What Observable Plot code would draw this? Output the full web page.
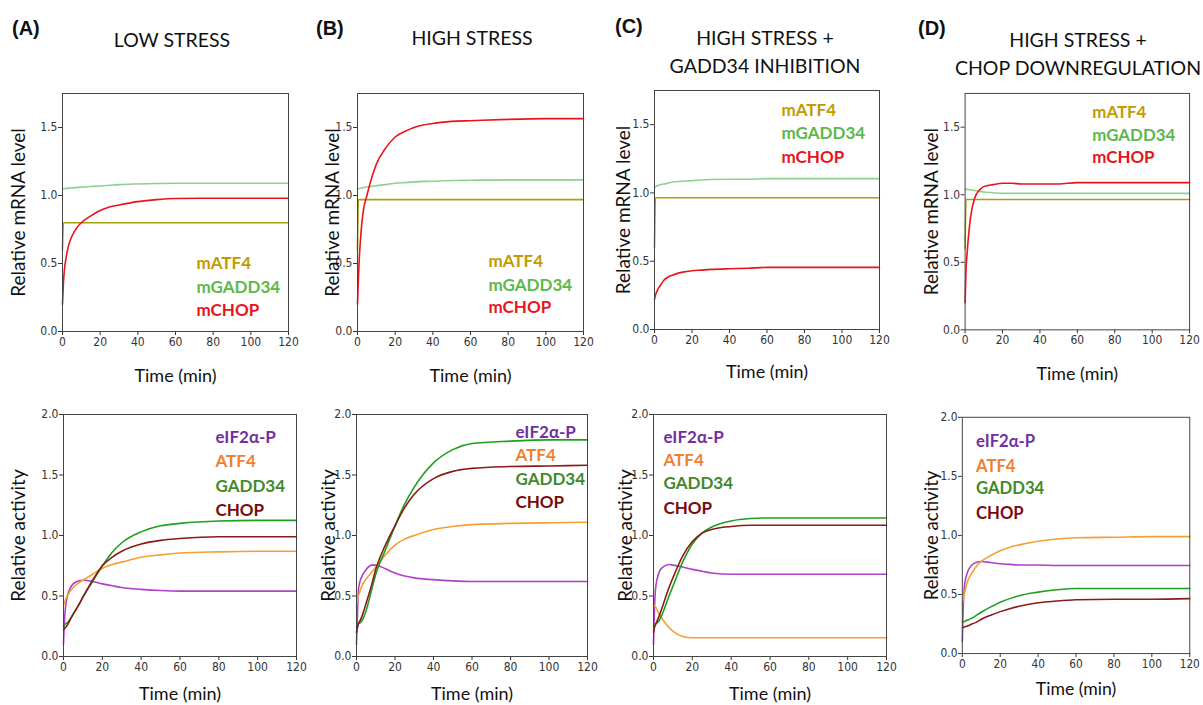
<!DOCTYPE html>
<html><head><meta charset="utf-8">
<script src="https://cdn.jsdelivr.net/npm/d3@7"></script>
<script src="https://cdn.jsdelivr.net/npm/@observablehq/plot@0.6"></script>
<style>
body{margin:0;background:#fff;}
#fig{position:relative;width:1203px;height:705px;overflow:hidden;font-family:Lato,"Open Sans",sans-serif;color:#111;}
.tag{position:absolute;font:bold 20px "Liberation Sans",Arial,sans-serif;line-height:24px;}
.ttl{position:absolute;font-size:19.5px;text-align:center;white-space:nowrap;transform:translateX(-50%);line-height:28px;}
.pnl{position:absolute;}
</style></head><body><div id="fig"></div>
<script>
// ---------- data ----------
const T = [0, 0.5, 1, 2, 3, 5, 8, 10, 15, 20, 25, 30, 40, 50, 60, 80, 100, 120];
const xTicks = [0, 20, 40, 60, 80, 100, 120];
const mrnaTicks = [0, 0.5, 1.0, 1.5];
const actTicks = [0, 0.5, 1.0, 1.5, 2.0];
const panelTags = ["(A)", "(B)", "(C)", "(D)"];
const panelTitles = [["LOW STRESS"], ["HIGH STRESS"], ["HIGH STRESS +", "GADD34 INHIBITION"], ["HIGH STRESS +", "CHOP DOWNREGULATION"]];
const mrnaNames = ["mATF4", "mGADD34", "mCHOP"];
const actNames = ["eIF2\u03b1-P", "ATF4", "GADD34", "CHOP"];

// panel A (low stress)
const mATF4_A   = [0.6, 0.8, 0.8, 0.8, 0.8, 0.8, 0.8, 0.8, 0.8, 0.8, 0.8, 0.8, 0.8, 0.8, 0.8, 0.8, 0.8, 0.8];
const mGADD34_A = [1.05, 1.05, 1.05, 1.052, 1.054, 1.056, 1.06, 1.062, 1.066, 1.07, 1.075, 1.08, 1.085, 1.088, 1.09, 1.09, 1.09, 1.09];
const mCHOP_A   = [0.2, 0.36, 0.45, 0.55, 0.62, 0.7, 0.77, 0.8, 0.85, 0.89, 0.915, 0.93, 0.955, 0.97, 0.978, 0.98, 0.98, 0.98];
const eIF2_A    = [0.1, 0.3, 0.4, 0.5, 0.55, 0.6, 0.625, 0.63, 0.62, 0.6, 0.585, 0.57, 0.555, 0.545, 0.54, 0.54, 0.54, 0.54];
const ATF4_A    = [0.42, 0.45, 0.47, 0.5, 0.53, 0.57, 0.61, 0.63, 0.68, 0.73, 0.76, 0.78, 0.82, 0.84, 0.855, 0.865, 0.87, 0.87];
const GADD34_A  = [0.25, 0.26, 0.27, 0.28, 0.3, 0.35, 0.43, 0.49, 0.62, 0.75, 0.86, 0.94, 1.03, 1.08, 1.1, 1.12, 1.125, 1.125];
const CHOP_A    = [0.22, 0.23, 0.24, 0.26, 0.29, 0.35, 0.43, 0.49, 0.63, 0.75, 0.82, 0.87, 0.93, 0.96, 0.975, 0.99, 0.99, 0.99];
// panel B (high stress)
const mATF4_B   = [0.6, 0.97, 0.97, 0.97, 0.97, 0.97, 0.97, 0.97, 0.97, 0.97, 0.97, 0.97, 0.97, 0.97, 0.97, 0.97, 0.97, 0.97];
const mGADD34_B = [1.05, 1.05, 1.05, 1.055, 1.058, 1.062, 1.068, 1.072, 1.08, 1.09, 1.095, 1.1, 1.105, 1.11, 1.112, 1.115, 1.115, 1.115];
const mCHOP_B   = [0.2, 0.4, 0.55, 0.75, 0.88, 1.0, 1.15, 1.23, 1.35, 1.43, 1.47, 1.5, 1.53, 1.545, 1.55, 1.56, 1.565, 1.565];
const eIF2_B    = [0.1, 0.35, 0.55, 0.63, 0.67, 0.72, 0.755, 0.755, 0.725, 0.69, 0.665, 0.65, 0.635, 0.625, 0.62, 0.62, 0.62, 0.62];
const ATF4_B    = [0.42, 0.47, 0.5, 0.55, 0.59, 0.64, 0.7, 0.74, 0.84, 0.92, 0.97, 1.0, 1.05, 1.075, 1.09, 1.1, 1.105, 1.11];
const GADD34_B  = [0.2, 0.25, 0.27, 0.28, 0.3, 0.38, 0.56, 0.68, 0.88, 1.08, 1.26, 1.4, 1.6, 1.71, 1.76, 1.78, 1.79, 1.79];
const CHOP_B    = [0.2, 0.24, 0.27, 0.3, 0.34, 0.44, 0.6, 0.72, 0.92, 1.08, 1.23, 1.34, 1.47, 1.53, 1.555, 1.57, 1.575, 1.58];
// panel C (high stress + GADD34 inhibition)
const mATF4_C   = [0.6, 0.965, 0.965, 0.965, 0.965, 0.965, 0.965, 0.965, 0.965, 0.965, 0.965, 0.965, 0.965, 0.965, 0.965, 0.965, 0.965, 0.965];
const mGADD34_C = [1.04, 1.045, 1.05, 1.055, 1.06, 1.065, 1.075, 1.08, 1.085, 1.09, 1.095, 1.098, 1.1, 1.1, 1.105, 1.105, 1.105, 1.105];
const mCHOP_C   = [0.22, 0.25, 0.27, 0.3, 0.32, 0.36, 0.39, 0.4, 0.42, 0.43, 0.435, 0.44, 0.445, 0.448, 0.455, 0.455, 0.455, 0.455];
const eIF2_C    = [0.1, 0.4, 0.55, 0.65, 0.7, 0.74, 0.76, 0.755, 0.74, 0.72, 0.705, 0.69, 0.68, 0.68, 0.68, 0.68, 0.68, 0.68];
const ATF4_C    = [0.43, 0.42, 0.41, 0.38, 0.35, 0.3, 0.24, 0.21, 0.165, 0.155, 0.155, 0.155, 0.155, 0.155, 0.155, 0.155, 0.155, 0.155];
const GADD34_C  = [0.25, 0.26, 0.27, 0.28, 0.3, 0.37, 0.5, 0.58, 0.78, 0.93, 1.02, 1.07, 1.12, 1.14, 1.145, 1.145, 1.145, 1.145];
const CHOP_C    = [0.2, 0.24, 0.26, 0.3, 0.34, 0.43, 0.57, 0.65, 0.83, 0.95, 1.02, 1.05, 1.075, 1.085, 1.085, 1.085, 1.085, 1.085];
// panel D (high stress + CHOP downregulation)
const mATF4_D   = [0.6, 0.965, 0.965, 0.965, 0.965, 0.965, 0.965, 0.965, 0.965, 0.965, 0.965, 0.965, 0.965, 0.965, 0.965, 0.965, 0.965, 0.965];
const mGADD34_D = [1.04, 1.04, 1.04, 1.038, 1.035, 1.032, 1.025, 1.02, 1.015, 1.01, 1.01, 1.01, 1.01, 1.01, 1.01, 1.01, 1.01, 1.01];
const mCHOP_D   = [0.2, 0.45, 0.55, 0.72, 0.84, 0.97, 1.04, 1.06, 1.075, 1.085, 1.085, 1.08, 1.08, 1.08, 1.09, 1.09, 1.09, 1.09];
const eIF2_D    = [0.1, 0.4, 0.55, 0.65, 0.7, 0.75, 0.775, 0.78, 0.77, 0.76, 0.755, 0.75, 0.75, 0.745, 0.745, 0.745, 0.745, 0.745];
const ATF4_D    = [0.42, 0.46, 0.5, 0.57, 0.62, 0.68, 0.75, 0.78, 0.83, 0.87, 0.9, 0.92, 0.95, 0.97, 0.98, 0.985, 0.99, 0.99];
const GADD34_D  = [0.27, 0.27, 0.27, 0.28, 0.285, 0.3, 0.33, 0.35, 0.395, 0.435, 0.465, 0.49, 0.52, 0.54, 0.55, 0.55, 0.55, 0.55];
const CHOP_D    = [0.22, 0.22, 0.225, 0.23, 0.235, 0.25, 0.27, 0.29, 0.325, 0.355, 0.38, 0.4, 0.43, 0.445, 0.455, 0.46, 0.46, 0.465];

// ---------- styles ----------
const mrnaLine = ["#a8a010", "#8fd08f", "#e8141c"];
const mrnaText = ["#c39a00", "#5cb84a", "#e8141c"];
const actLine = ["#b040c8", "#f5a030", "#1ea01e", "#8b1a1a"];
const actText = ["#7030a0", "#f07f30", "#3f8a2a", "#7a0a0a"];
const tickFont = "'Liberation Sans Narrow','DejaVu Sans Condensed','Liberation Sans',sans-serif";
const labFont = "Lato,'Open Sans',sans-serif";

const fig = document.getElementById("fig");

// tags and titles
const tagPos = [[12, 16], [316, 16], [615, 14], [918, 16]];
const titlePos = [[172, 26], [472, 24], [765, 24], [1078, 26]];
panelTags.forEach((t, i) => {
  const d = document.createElement("div"); d.className = "tag"; d.textContent = t;
  d.style.left = tagPos[i][0] + "px"; d.style.top = tagPos[i][1] + "px"; fig.appendChild(d);
  const h = document.createElement("div"); h.className = "ttl";
  h.innerHTML = panelTitles[i].join("<br>");
  h.style.left = titlePos[i][0] + "px"; h.style.top = titlePos[i][1] + "px"; fig.appendChild(h);
});

function panel(cfg) {
  const ML = 60, MR = 14, MT = 10, MB = 52;
  const [fx, fy, fw, fh] = cfg.frame;
  const marks = [
    Plot.axisX({ticks: xTicks, tickSize: 4, tickPadding: 2, label: null, fontSize: 12, fontFamily: tickFont}),
    Plot.axisY({ticks: cfg.yticks, tickFormat: d3.format(".1f"), tickSize: 4, tickPadding: 1, label: null, fontSize: 12, fontFamily: tickFont}),
    ...cfg.series.map((vals, i) => Plot.line(T, {x: T, y: vals, stroke: cfg.lineColors[i], strokeWidth: 1.6, curve: "monotone-x"})),
    Plot.frame({stroke: "#444"}),
    ...cfg.names.map((n, i) => Plot.text([n], {frameAnchor: "top-left", dx: cfg.legDx, dy: cfg.legDy[i], text: d => d,
      fill: cfg.textColors[i], fontWeight: "bold", fontSize: 17, fontFamily: labFont, textAnchor: "start", lineAnchor: "middle"})),
    Plot.text([cfg.ylabel], {frameAnchor: "left", dx: cfg.ylabDx, rotate: -90, text: d => d, fontSize: 19, fontFamily: labFont,
      fill: "#111", textAnchor: "middle", lineAnchor: "middle"}),
    Plot.text(["Time (min)"], {frameAnchor: "bottom", dy: cfg.xlabDy, text: d => d, fontSize: 18, fontFamily: labFont,
      fill: "#111", textAnchor: "middle", lineAnchor: "middle"})
  ];
  const p = Plot.plot({
    width: fw + ML + MR, height: fh + MT + MB,
    marginLeft: ML, marginRight: MR, marginTop: MT, marginBottom: MB,
    x: {domain: [0, 120]}, y: {domain: [0, cfg.ymax]},
    style: {background: "transparent", color: "#333", overflow: "visible"},
    marks
  });
  const d = document.createElement("div"); d.className = "pnl";
  d.style.left = (fx - ML) + "px"; d.style.top = (fy - MT) + "px";
  d.appendChild(p); fig.appendChild(d);
}

const topRow = [
  {frame: [62, 93, 226, 238], series: [mATF4_A, mGADD34_A, mCHOP_A], legDx: 134, legDy: [170, 194, 217], ylabDx: -44, xlabDy: 45},
  {frame: [357, 93, 226, 238], series: [mATF4_B, mGADD34_B, mCHOP_B], legDx: 131, legDy: [168, 192, 214], ylabDx: -25, xlabDy: 45},
  {frame: [654, 90, 225, 239], series: [mATF4_C, mGADD34_C, mCHOP_C], legDx: 127, legDy: [20, 43, 67], ylabDx: -31, xlabDy: 43},
  {frame: [965, 93, 226, 238], series: [mATF4_D, mGADD34_D, mCHOP_D], legDx: 128, legDy: [19, 42, 65], ylabDx: -33, xlabDy: 45}
];
topRow.forEach(c => panel({...c, ymax: 1.75, yticks: mrnaTicks, ylabel: "Relative mRNA level", names: mrnaNames, lineColors: mrnaLine, textColors: mrnaText}));

const bottomRow = [
  {frame: [63, 414, 233, 242], series: [eIF2_A, ATF4_A, GADD34_A, CHOP_A], legDx: 152, legDy: [23, 47, 72, 96], ylabDx: -45, xlabDy: 38},
  {frame: [356, 414, 231, 242], series: [eIF2_B, ATF4_B, GADD34_B, CHOP_B], legDx: 159, legDy: [18, 41, 65, 88], ylabDx: -28, xlabDy: 38},
  {frame: [653, 414, 233, 242], series: [eIF2_C, ATF4_C, GADD34_C, CHOP_C], legDx: 10, legDy: [23, 46, 69, 94], ylabDx: -28, xlabDy: 38},
  {frame: [963, 417, 232, 241], series: [eIF2_D, ATF4_D, GADD34_D, CHOP_D], legDx: 14, legDy: [25, 50, 73, 98], ylabDx: -31, xlabDy: 36}
];
bottomRow.forEach(c => panel({...c, ymax: 2.0, yticks: actTicks, ylabel: "Relative activity", names: actNames, lineColors: actLine, textColors: actText}));
</script></body></html>
